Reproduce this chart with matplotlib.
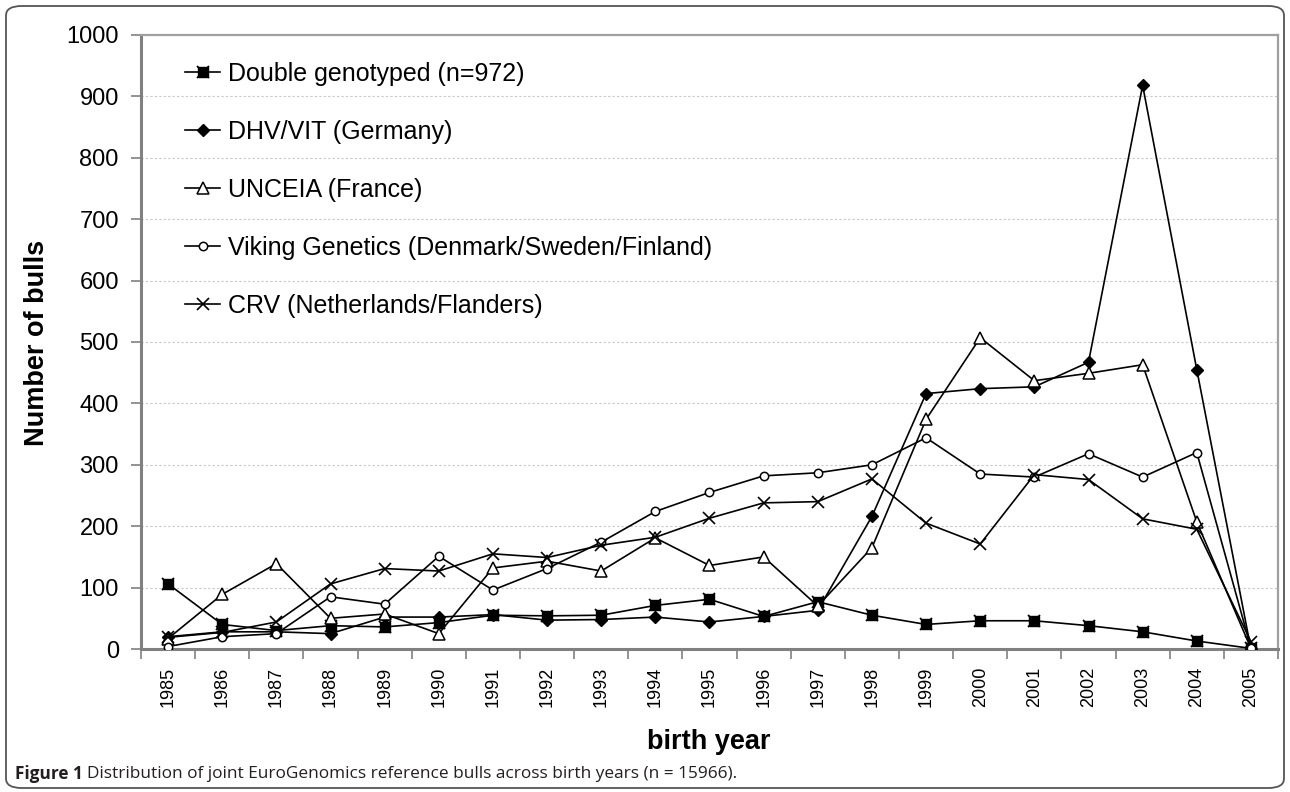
import matplotlib
matplotlib.use('Agg')
import matplotlib.pyplot as plt
from matplotlib.patches import FancyBboxPatch
from matplotlib.legend_handler import HandlerTuple

plt.rcParams['font.family'] = ['Liberation Sans', 'DejaVu Sans']

years = list(range(1985, 2006))
double = [106, 40, 30, 38, 36, 43, 55, 54, 55, 71, 81, 53, 77, 55, 40, 46, 46, 38, 28, 13, 1]
dhv = [20, 28, 28, 25, 52, 52, 56, 47, 48, 52, 44, 53, 63, 216, 416, 424, 427, 467, 918, 455, 0]
unceia = [17, 89, 139, 50, 57, 25, 132, 143, 127, 181, 136, 150, 70, 165, 374, 507, 437, 449, 463, 207, 1]
viking = [4, 20, 25, 85, 73, 151, 96, 131, 174, 224, 255, 282, 287, 300, 344, 285, 280, 318, 280, 320, 2]
crv = [19, 27, 44, 106, 131, 127, 155, 149, 169, 182, 213, 238, 240, 277, 205, 171, 284, 276, 212, 195, 12]
labels = ['Double genotyped (n=972)', 'DHV/VIT (Germany)', 'UNCEIA (France)',
          'Viking Genetics (Denmark/Sweden/Finland)', 'CRV (Netherlands/Flanders)']

W, H = 1290, 792
fig = plt.figure(figsize=(W/100, H/100), dpi=100)
ax = fig.add_axes([141/W, 1-649/H, (1278-141)/W, (649-35)/H])

x = list(range(len(years)))
lw = 1.2
h1a, = ax.plot(x, double, color='black', lw=lw, marker='s', ms=6.5, zorder=3)
h1b, = ax.plot(x, double, color='black', lw=0, marker='x', ms=8, mew=1.3, zorder=3)
h2, = ax.plot(x, dhv, color='black', lw=lw, marker='D', ms=6, zorder=3)
h3, = ax.plot(x, unceia, color='black', lw=lw, marker='^', ms=9, mfc='white', mew=1.1, zorder=3)
h4, = ax.plot(x, viking, color='black', lw=lw, marker='o', ms=6, mfc='white', mew=1.1, zorder=3)
h5, = ax.plot(x, crv, color='black', lw=lw, marker='x', ms=9, mew=1.2, zorder=3)

ax.set_xlim(-0.5, len(years)-0.5)
ax.set_ylim(0, 1000)
ax.set_yticks(range(0, 1001, 100))
ax.set_xticks([i-0.5 for i in range(len(years)+1)])
ax.set_xticklabels([])
ax.set_xticks(x, minor=True)
ax.set_xticklabels([str(y) for y in years], minor=True, rotation=90, fontsize=13)
ax.tick_params(axis='x', which='minor', length=0, pad=13)
ax.tick_params(axis='x', which='major', length=7, width=1.2, color='#808080', direction='out')
ax.tick_params(axis='y', length=7, width=1.2, color='#808080', direction='out', labelsize=17, pad=9)

for v in range(100, 1000, 100):
    ax.axhline(v, color='#c8c8c8', lw=0.8, ls=(0, (2, 2)), zorder=1)

for s in ['left', 'bottom']:
    ax.spines[s].set_color('#808080')
    ax.spines[s].set_linewidth(2.2)
for s in ['top', 'right']:
    ax.spines[s].set_color('#a0a0a0')
    ax.spines[s].set_linewidth(1.6)

leg = ax.legend([(h1a, h1b), h2, h3, h4, h5], labels,
                handler_map={tuple: HandlerTuple(ndivide=1)},
                loc='upper left', bbox_to_anchor=(185/W, 1-62/H), bbox_transform=fig.transFigure,
                frameon=False, fontsize=18, handlelength=1.4, handletextpad=0.3,
                labelspacing=1.36, borderpad=0, borderaxespad=0)

fig.text(37/W, 1-343/H, 'Number of bulls', rotation=90, ha='center', va='center',
         fontsize=19.5, fontweight='bold')
fig.text(709/W, 1-742/H, 'birth year', ha='center', va='center',
         fontsize=19.5, fontweight='bold')

cap_fs = 12.4
t1 = fig.text(15/W, 1-774/H, 'Figure 1 ', ha='left', va='center', fontsize=cap_fs,
              fontweight='bold', family='Open Sans', color='#231f20')
fig.canvas.draw()
bb = t1.get_window_extent()
fig.text(bb.x1/W, 1-774/H, 'Distribution of joint EuroGenomics reference bulls across birth years (n = 15966).',
         ha='left', va='center', fontsize=cap_fs, family='Open Sans', color='#231f20')

frame = FancyBboxPatch((6/W, 4/H), (W-12)/W, (H-10)/H,
                       boxstyle='round,pad=0,rounding_size=0.012',
                       transform=fig.transFigure, fill=False, ec='#555555', lw=1.3)
fig.patches.append(frame)

fig.savefig('out.png', dpi=100)
